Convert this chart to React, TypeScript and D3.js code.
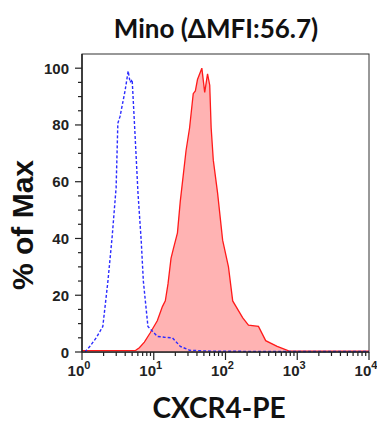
import React, { useEffect, useRef } from 'react';
import * as d3 from 'd3';

// CXCR4-PE histogram, Mino cells: isotype (blue dashed) vs CXCR4 (red filled)
const isoIntensity = [1.1, 1.29, 1.58, 1.95, 2.29, 2.63, 2.99, 3.16, 3.39, 3.98, 4.4, 4.68, 5.0, 5.5, 6.03, 6.68, 7.16, 8.3, 11.2, 14.1, 18.2, 23.4, 31.6, 63, 316, 10000];
const isoPct = [0, 2, 5, 9, 24.6, 40.5, 58, 80.6, 83, 92, 99, 95, 96, 76, 56, 39.4, 25, 9, 5.5, 5.2, 5, 2, 0.6, 0.3, 0.2, 0.2];

const cxIntensity = [1, 5.6, 6.3, 7.4, 8.9, 11.2, 13.2, 14.5, 15.8, 17.4, 18.6, 21.4, 23.4, 28.2, 31.6, 35.5, 38, 40.7, 46.8, 51.3, 56.2, 60.3, 63.1, 67.6, 77.6, 91.2, 110, 126, 174, 209, 288, 363, 525, 759, 10000];
const cxPct = [0.5, 0.6, 1.5, 3.5, 6.7, 11, 16, 18, 24, 33, 36, 42, 53, 71, 79, 91, 92, 96, 100, 91.5, 98, 94, 79, 67.6, 56, 39.4, 30, 18, 12, 9.5, 9, 4, 2, 0.4, 0.3];

const yTicks = [0, 20, 40, 60, 80, 100];
const xDecades = [0, 1, 2, 3, 4];

const W = 377;
const H = 423;

export default function App() {
  const svgRef = useRef<SVGSVGElement>(null);

  useEffect(() => {
    if (!svgRef.current) return;
    const svg = d3.select(svgRef.current);
    svg.selectAll('*').remove();

    const left = 82, right = 369, top = 54, bottom = 352;
    const x = d3.scaleLog().domain([1, 10000]).range([left, right]);
    const y = d3.scaleLinear().domain([0, 105]).range([bottom, top]);

    const iso = isoIntensity.map((v, i) => [v, isoPct[i]] as [number, number]);
    const cx = cxIntensity.map((v, i) => [v, cxPct[i]] as [number, number]);

    // frame
    svg.append('rect')
      .attr('x', left).attr('y', top)
      .attr('width', right - left).attr('height', bottom - top)
      .attr('fill', 'none').attr('stroke', '#333').attr('stroke-width', 1);

    // red filled histogram
    const area = d3.area<[number, number]>()
      .x(d => x(d[0])).y0(y(0)).y1(d => y(d[1]));
    const line = d3.line<[number, number]>()
      .x(d => x(d[0])).y(d => y(d[1]));

    svg.append('path').attr('d', area(cx)).attr('fill', '#ffb3b3');
    svg.append('path').attr('d', line(cx))
      .attr('fill', 'none').attr('stroke', '#ff1a1a').attr('stroke-width', 1.3);

    // blue dashed isotype
    svg.append('path').attr('d', line(iso))
      .attr('fill', 'none').attr('stroke', '#2b2bff').attr('stroke-width', 1.4)
      .attr('stroke-dasharray', '3,2');

    // y axis
    const yMinor = d3.range(0, 101, 5);
    svg.append('g').selectAll('line').data(yMinor).enter().append('line')
      .attr('x1', d => (d % 20 === 0 ? left - 7 : left - 4)).attr('x2', left)
      .attr('y1', d => y(d)).attr('y2', d => y(d))
      .attr('stroke', '#222').attr('stroke-width', 1.2);
    svg.append('line').attr('x1', left).attr('x2', left).attr('y1', top).attr('y2', bottom)
      .attr('stroke', '#222').attr('stroke-width', 1.5);
    svg.append('g').selectAll('text').data(yTicks).enter().append('text')
      .attr('x', left - 13).attr('y', d => y(d) + 5.5)
      .attr('text-anchor', 'end')
      .style('font-family', '"Liberation Sans", Arial, sans-serif')
      .style('font-weight', 'bold').style('font-size', '15px').attr('fill', '#222')
      .text(d => d);

    // x axis
    const xMinor: number[] = [];
    for (let e = 0; e < 4; e++) for (let k = 1; k <= 9; k++) xMinor.push(k * Math.pow(10, e));
    xMinor.push(10000);
    svg.append('g').selectAll('line').data(xMinor).enter().append('line')
      .attr('x1', d => x(d)).attr('x2', d => x(d))
      .attr('y1', bottom)
      .attr('y2', d => (Math.abs(Math.log10(d) % 1) < 1e-9 ? bottom + 8 : bottom + 4))
      .attr('stroke', '#222').attr('stroke-width', 1.2);
    svg.append('line').attr('x1', left).attr('x2', right).attr('y1', bottom).attr('y2', bottom)
      .attr('stroke', '#222').attr('stroke-width', 1.5);
    const xl = svg.append('g').selectAll('text').data(xDecades).enter().append('text')
      .attr('x', d => x(Math.pow(10, d)) - 3).attr('y', 376)
      .attr('text-anchor', 'middle')
      .style('font-family', '"Liberation Sans", Arial, sans-serif')
      .style('font-weight', 'bold').style('font-size', '15px').attr('fill', '#222');
    xl.append('tspan').text('10');
    xl.append('tspan').attr('dy', -7).style('font-size', '11px').text(d => d);

    // titles
    svg.append('text').attr('x', 216).attr('y', 38).attr('text-anchor', 'middle')
      .style('font-family', 'Lato, sans-serif').style('font-weight', 'bold')
      .style('font-size', '26px').attr('fill', '#111')
      .text('Mino (ΔMFI:56.7)');
    svg.append('text').attr('x', 219).attr('y', 418).attr('text-anchor', 'middle')
      .style('font-family', 'Lato, sans-serif').style('font-weight', 'bold')
      .style('font-size', '28px').attr('fill', '#111')
      .text('CXCR4-PE');
    svg.append('text').attr('transform', 'translate(33,225) rotate(-90)')
      .attr('text-anchor', 'middle')
      .style('font-family', '"Liberation Sans", Arial, sans-serif')
      .style('font-weight', 'bold').style('font-size', '30px').attr('fill', '#111')
      .text('% of Max');
  }, []);

  return (
    <svg
      ref={svgRef}
      width={W}
      height={H}
      style={{ position: 'absolute', left: 0, top: 0, background: '#fff' }}
    />
  );
}
